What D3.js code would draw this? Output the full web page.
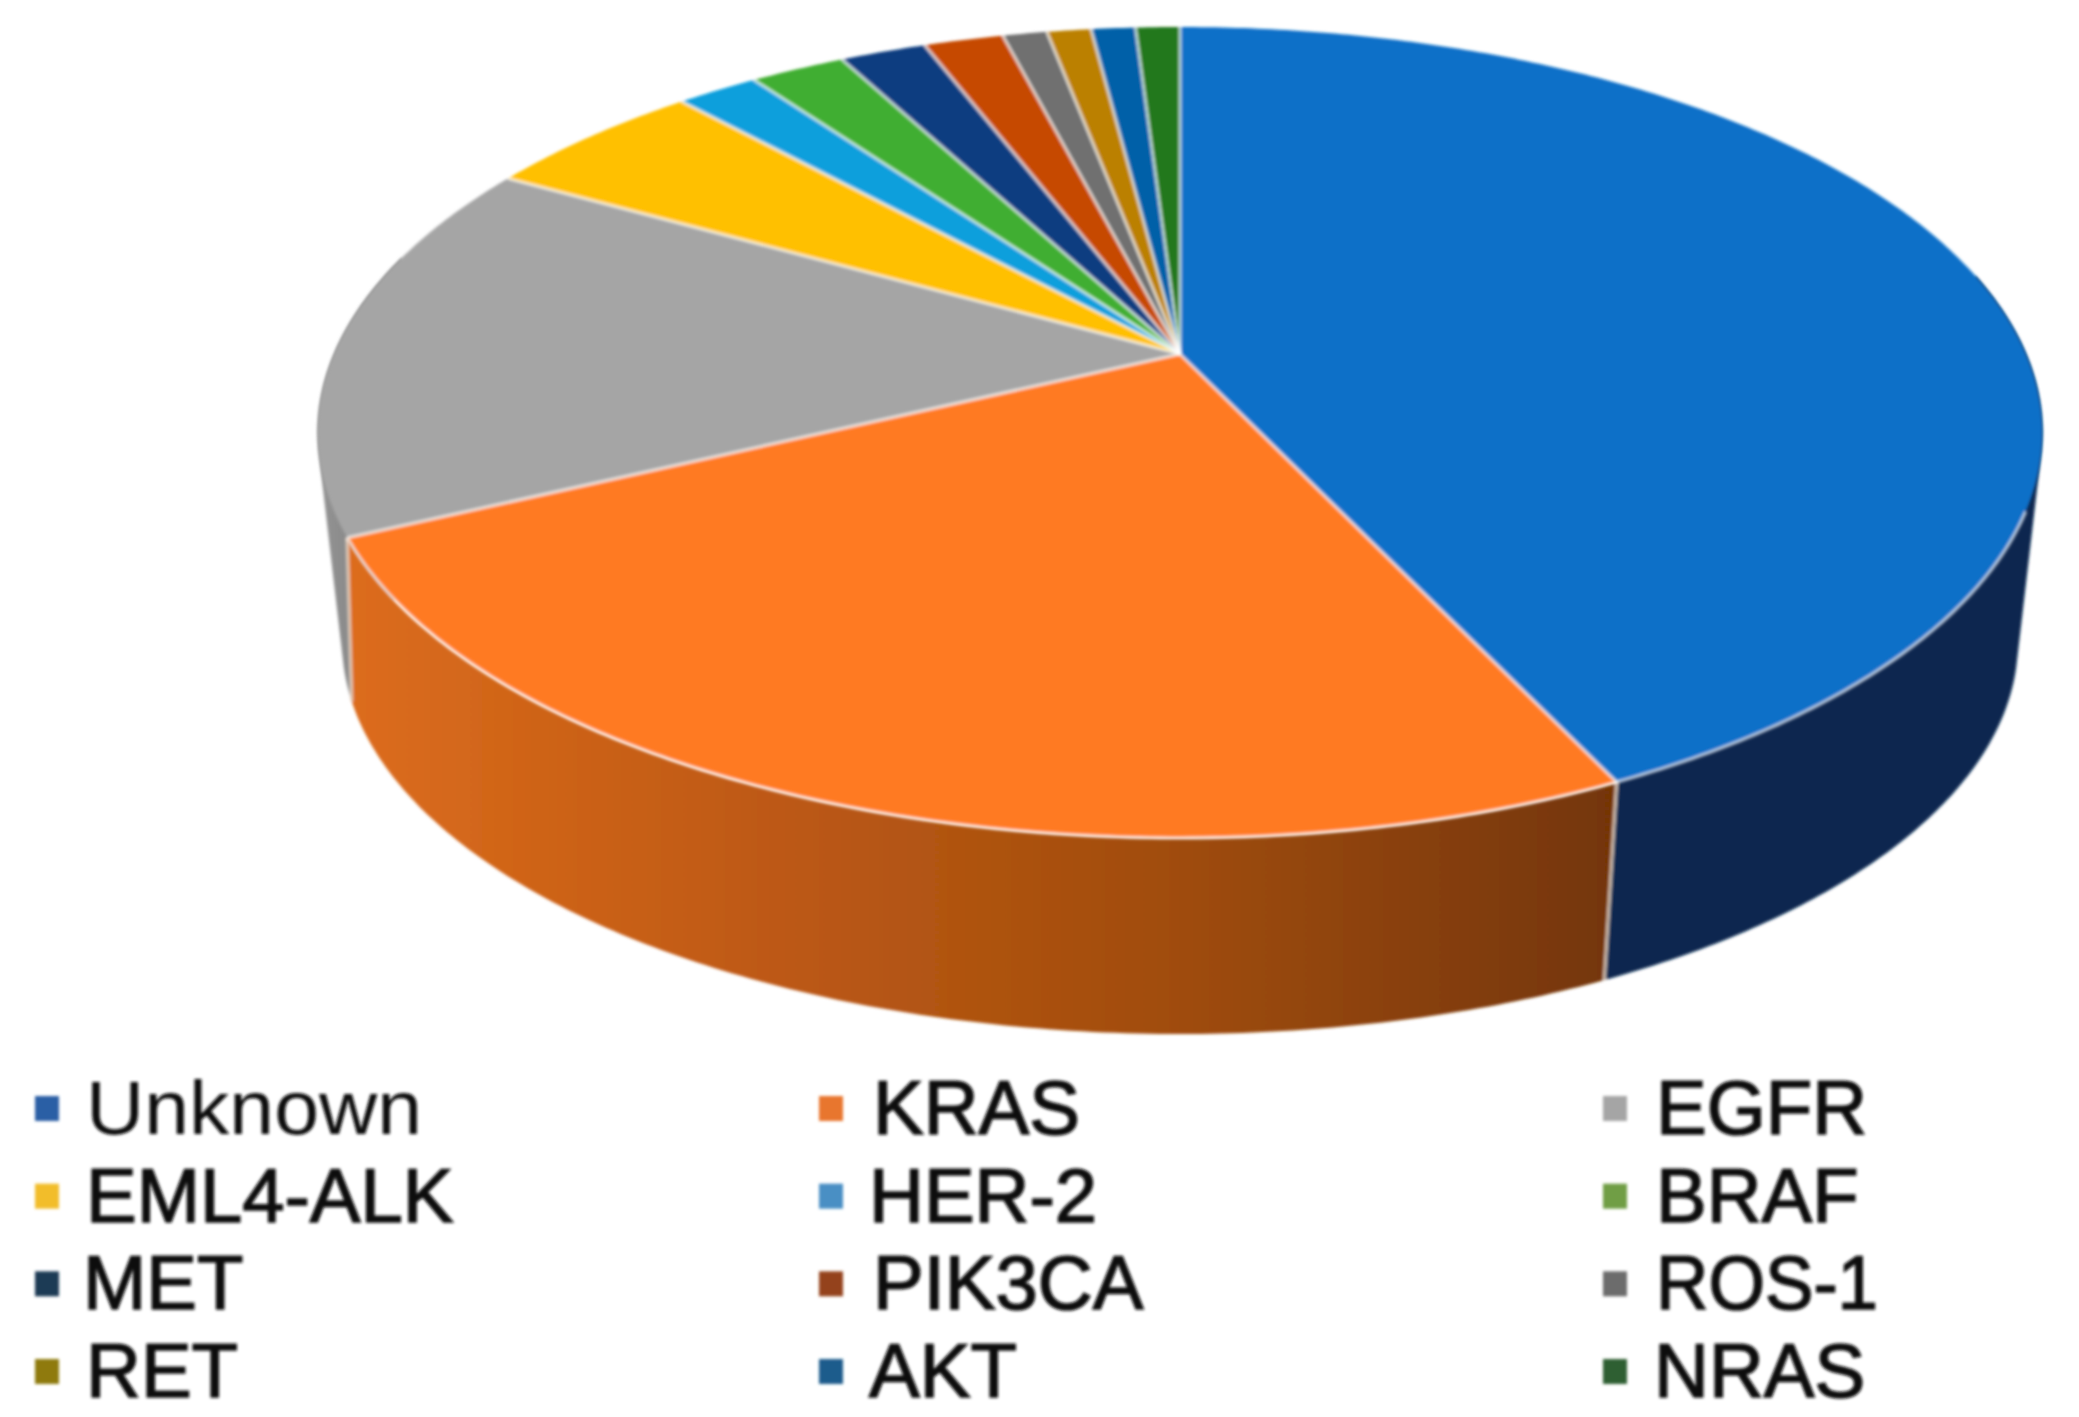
<!DOCTYPE html>
<html>
<head>
<meta charset="utf-8">
<script src="https://cdnjs.cloudflare.com/ajax/libs/d3/7.8.5/d3.min.js"></script>
<style>
html,body{margin:0;padding:0;background:#fff;overflow:hidden}
text{font-family:"Liberation Sans",Arial,sans-serif;fill:#111}
</style>
</head>
<body>
<svg id="c" width="2079" height="1417"></svg>
<script>
// Data (share of cases, %)
const categories = ["Unknown","KRAS","EGFR","EML4-ALK","HER-2","BRAF","MET","PIK3CA","ROS-1","RET","AKT","NRAS"];
const values = [43.0,24.9,15.3,5.05,1.85,2.15,1.95,1.8,1.0,1.0,1.0,1.0];
const colors = ["#1070c8","#ff7a22","#a5a5a5","#ffc000","#0a9fdc","#41ae30","#0d3c80","#c64a00","#6f6f6f","#bb8000","#0060a8","#24781e"];
const legendColors = ["#2a5fa5","#e8762f","#a5a5a5","#f2bd2a","#4a8fc4","#6f9e45","#1f3a55","#94421f","#6c6c6c","#8f7a10","#1a5c8c","#2f5f30"];

const W = 2079, H = 1417;
const svg = d3.select("#c");
const defs = svg.append("defs");
const blur = defs.append("filter").attr("id","soft").attr("x","-5%").attr("y","-5%").attr("width","110%").attr("height","110%");
blur.append("feGaussianBlur").attr("stdDeviation",1.4);

// Perspective disc: unit circle seen from the front, tilted away
const tilt = 0.1936;
const topX = d3.scaleLinear().domain([-1,1]).range([1180-846,1180+846]);
const topY = d3.scaleLinear().domain([-1,1]).range([354-390.3,354+390.3]);
const baseX = d3.scaleLinear().domain([-1,1]).range([1180-822,1180+822]);
const baseY = d3.scaleLinear().domain([-1,1]).range([566.5-377,566.5+377]);
const rad = Math.PI/180;
const baseSkew = d3.scaleLinear().domain([180*rad,244*rad]).range([0,6*rad]).clamp(true);
const proj = (a,r,sx,sy) => {
  const X = r*Math.sin(a), Y = -r*Math.cos(a), w = 1 - tilt*Y;
  return [sx(X/w), sy(Y/w)];
};
const onTop = (a,r=1) => proj(a,r,topX,topY);
const onBase = a => proj(a + baseSkew(a),1,baseX,baseY);
const arcAngles = (a0,a1) => {
  const n = Math.max(2,Math.ceil(Math.abs(a1-a0)/0.01));
  return d3.range(n+1).map(i => a0+(a1-a0)*i/n);
};
const line = d3.line();

const arcs = d3.pie().sort(null).value(d=>d)(values);

// Wall gradients
const grad = (id,x1,x2,stops) => {
  const g = defs.append("linearGradient").attr("id",id).attr("gradientUnits","userSpaceOnUse")
    .attr("x1",x1).attr("x2",x2).attr("y1",0).attr("y2",0);
  stops.forEach(s => g.append("stop").attr("offset",s[0]).attr("stop-color",s[1]));
};
grad("wallOrange",350,1620,[[0,"#dc6c1c"],[0.3,"#c05a14"],[0.65,"#a04c0e"],[1,"#733506"]]);
grad("wallGrey",320,370,[[0,"#939393"],[1,"#848484"]]);

const walls = [
  {i:2, a0:arcs[2].startAngle, a1:285*rad, fill:"url(#wallGrey)", hull:true},
  {i:0, a0:78*rad, a1:arcs[0].endAngle, fill:"#072850", hull:true},
  {i:1, a0:arcs[1].startAngle, a1:arcs[1].endAngle, fill:"url(#wallOrange)", hull:false}
];
const gWalls = svg.append("g").attr("filter","url(#soft)");
gWalls.selectAll("path").data(walls).join("path")
  .attr("d", d => {
    const as = arcAngles(d.a0,d.a1);
    const pts = as.map(a=>onTop(a)).concat(as.slice().reverse().map(onBase));
    return line(d.hull ? d3.polygonHull(pts) : pts) + "Z";
  })
  .attr("fill", d=>d.fill);

// Seams between walls
gWalls.selectAll("line").data([arcs[0].endAngle, arcs[1].endAngle]).join("line")
  .attr("x1", a=>onTop(a)[0]).attr("y1", a=>onTop(a)[1])
  .attr("x2", a=>onBase(a)[0]).attr("y2", a=>onBase(a)[1])
  .attr("stroke","#ead8c8").attr("stroke-opacity",0.75).attr("stroke-width",3.5);

// Top face
const slicePath = d => line([onTop(0,0)].concat(arcAngles(d.startAngle,d.endAngle).map(a=>onTop(a)))) + "Z";
const gTop = svg.append("g").attr("filter","url(#soft)");
gTop.selectAll("path").data(arcs).join("path")
  .attr("d", slicePath)
  .attr("fill",(d,i)=>colors[i]);

// Pale edges on the slice borders (spokes on every slice, rim on the front part)
gTop.selectAll("path.spoke").data(arcs).join("path").attr("class","spoke")
  .attr("d", d => line([onTop(0,0), onTop(d.startAngle)]))
  .attr("fill","none").attr("stroke","#fff").attr("stroke-opacity",0.66).attr("stroke-width",3);
gTop.selectAll("path.rim").data(walls.filter(d=>d.i!==2)).join("path").attr("class","rim")
  .attr("d", d => line(arcAngles(Math.max(d.a0,112*rad),d.a1).map(a=>onTop(a))))
  .attr("fill","none").attr("stroke","#fff").attr("stroke-opacity",0.62).attr("stroke-width",3.2);

// Legend
const colX = d3.scalePoint().domain([0,1,2]).range([35,1603]);
const rowY = d3.scalePoint().domain([0,1,2,3]).range([1134,1397]);
const colGap = [51,54,53];
const nudge = {MET:-3,"HER-2":-4,AKT:-4,NRAS:-2};
const legend = svg.append("g").attr("filter","url(#soft)");
const item = legend.selectAll("g").data(categories).join("g")
  .attr("transform",(d,i)=>`translate(${colX(i%3)},${rowY(Math.floor(i/3))})`);
item.append("rect").attr("x",0).attr("y",-38).attr("width",24).attr("height",25)
  .attr("fill",(d,i)=>legendColors[i]);
item.append("text").attr("x",(d,i)=>colGap[i%3]+(nudge[d]||0)).attr("y",0)
  .attr("font-size",76)
  .attr("textLength",d=>d==="Unknown"?336:(d==="ROS-1"?222:null))
  .attr("lengthAdjust","spacingAndGlyphs")
  .attr("stroke","#111")
  .attr("stroke-width",d=>d==="Unknown"?0:1.6)
  .text(d=>d);
</script>
</body>
</html>
